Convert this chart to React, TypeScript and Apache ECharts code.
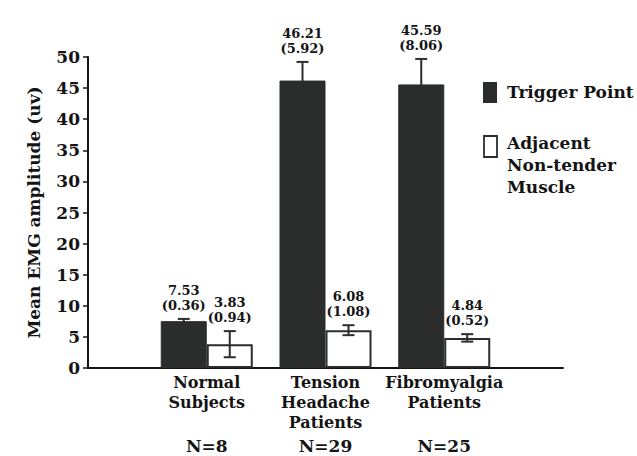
import React, { useEffect, useRef } from "react";
import * as echarts from "echarts";

// Group labels, sample sizes and bar values
const groups = ["Normal\nSubjects", "Tension\nHeadache\nPatients", "Fibromyalgia\nPatients"];
const sampleSizes = ["N=8", "N=29", "N=25"];
const triggerMean = [7.53, 46.21, 45.59];
const triggerSD = [0.36, 5.92, 8.06];
const triggerErr = [0.36, 3.0, 4.1];
const adjacentMean = [3.83, 6.08, 4.84];
const adjacentSD = [0.94, 1.08, 0.52];
const adjacentErr = [2.1, 0.8, 0.6];
const yTicks = { min: 0, max: 50, interval: 5 };

const DARK = "#2a2d2c";
const INK = "#141414";
const FONT = "DejaVu Serif";
const BAR_W = 46;

export default function App() {
  const ref = useRef<HTMLDivElement>(null);

  useEffect(() => {
    if (!ref.current) return;
    const chart = echarts.init(ref.current, null, { renderer: "svg" });

    const pos = (i: number) => i + 1;
    const errData = (means: number[], errs: number[], sds: number[]) =>
      means.map((m, i) => [pos(i), m, errs[i], sds[i]]);

    // Error whiskers with the "mean (SD)" caption placed above the top cap
    const errorSeries = (name: string, side: number, means: number[], errs: number[], sds: number[]) => ({
      type: "custom",
      name,
      xAxisIndex: 0,
      yAxisIndex: 0,
      z: 5,
      data: errData(means, errs, sds),
      renderItem: (params: any, api: any) => {
        const x = api.value(0);
        const m = api.value(1);
        const e = api.value(2);
        const sd = api.value(3);
        const base = api.coord([x, m]);
        const cx = base[0] + (side * BAR_W) / 2;
        const top = api.coord([x, m + e])[1];
        const bot = api.coord([x, m - e])[1];
        const cap = 6;
        const ls = { stroke: DARK, lineWidth: 2 };
        return {
          type: "group",
          children: [
            { type: "line", shape: { x1: cx, y1: top, x2: cx, y2: bot }, style: ls },
            { type: "line", shape: { x1: cx - cap, y1: top, x2: cx + cap, y2: top }, style: ls },
            { type: "line", shape: { x1: cx - cap, y1: bot, x2: cx + cap, y2: bot }, style: ls },
            {
              type: "text",
              style: {
                text: `${m.toFixed(2)}\n(${sd.toFixed(2)})`,
                x: cx,
                y: top - 6,
                align: "center",
                verticalAlign: "bottom",
                fontFamily: FONT,
                fontWeight: "bold",
                fontSize: 13,
                lineHeight: 15,
                fill: INK,
              },
            },
          ],
        };
      },
    });

    chart.setOption({
      animation: false,
      backgroundColor: "#ffffff",
      grid: { left: 88, right: 74, top: 57, bottom: 87, containLabel: false },
      xAxis: [
        {
          type: "value",
          min: 0,
          max: 4,
          interval: 1,
          position: "bottom",
          axisLine: { show: true, onZero: false, lineStyle: { color: INK, width: 2 } },
          axisTick: { show: false },
          splitLine: { show: false },
          axisLabel: {
            margin: 4,
            formatter: (v: number) => groups[v - 1] ?? "",
            fontFamily: FONT,
            fontWeight: "bold",
            fontSize: 16,
            lineHeight: 20,
            color: INK,
            showMinLabel: false,
            showMaxLabel: false,
          },
        },
        {
          type: "value",
          min: 0,
          max: 4,
          interval: 1,
          position: "bottom",
          offset: 64,
          axisLine: { show: false },
          axisTick: { show: false },
          splitLine: { show: false },
          axisLabel: {
            margin: 4,
            formatter: (v: number) => sampleSizes[v - 1] ?? "",
            fontFamily: FONT,
            fontWeight: "bold",
            fontSize: 17,
            lineHeight: 20,
            color: INK,
            showMinLabel: false,
            showMaxLabel: false,
          },
        },
      ],
      yAxis: {
        type: "value",
        min: yTicks.min,
        max: yTicks.max,
        interval: yTicks.interval,
        name: "Mean EMG amplitude (uv)",
        nameLocation: "middle",
        nameGap: 46,
        nameTextStyle: { fontFamily: FONT, fontWeight: "bold", fontSize: 17, color: INK },
        axisLine: { show: true, lineStyle: { color: INK, width: 2 } },
        axisTick: { show: true, length: 5, lineStyle: { color: INK, width: 1.5 } },
        splitLine: { show: false },
        axisLabel: { margin: 8, fontFamily: FONT, fontWeight: "bold", fontSize: 17, color: INK },
      },
      series: [
        {
          type: "bar",
          name: "Trigger Point",
          xAxisIndex: 0,
          barWidth: BAR_W,
          barGap: "0%",
          data: triggerMean.map((v, i) => [pos(i), v]),
          itemStyle: { color: DARK, borderColor: DARK, borderWidth: 1 },
        },
        {
          type: "bar",
          name: "Adjacent Non-tender Muscle",
          xAxisIndex: 0,
          barWidth: BAR_W,
          barGap: "0%",
          data: adjacentMean.map((v, i) => [pos(i), v]),
          itemStyle: { color: "#ffffff", borderColor: DARK, borderWidth: 2 },
        },
        errorSeries("Trigger Point SE", -1, triggerMean, triggerErr, triggerSD),
        errorSeries("Adjacent SE", 1, adjacentMean, adjacentErr, adjacentSD),
      ],
      graphic: [
        { type: "rect", shape: { x: 483, y: 82, width: 14, height: 21 }, style: { fill: DARK } },
        {
          type: "text",
          x: 507,
          y: 92,
          style: {
            text: "Trigger Point",
            fontFamily: FONT,
            fontWeight: "bold",
            fontSize: 17,
            fill: INK,
            verticalAlign: "middle",
          },
        },
        {
          type: "rect",
          shape: { x: 484, y: 136, width: 13, height: 21 },
          style: { fill: "#ffffff", stroke: DARK, lineWidth: 1.8 },
        },
        {
          type: "text",
          x: 507,
          y: 132,
          style: {
            text: "Adjacent\nNon-tender\nMuscle",
            fontFamily: FONT,
            fontWeight: "bold",
            fontSize: 17,
            lineHeight: 22,
            fill: INK,
            verticalAlign: "top",
          },
        },
      ],
    });

    return () => chart.dispose();
  }, []);

  return (
    <div
      ref={ref}
      style={{ position: "fixed", left: 0, top: 0, width: 637, height: 456, background: "#fff" }}
    />
  );
}
